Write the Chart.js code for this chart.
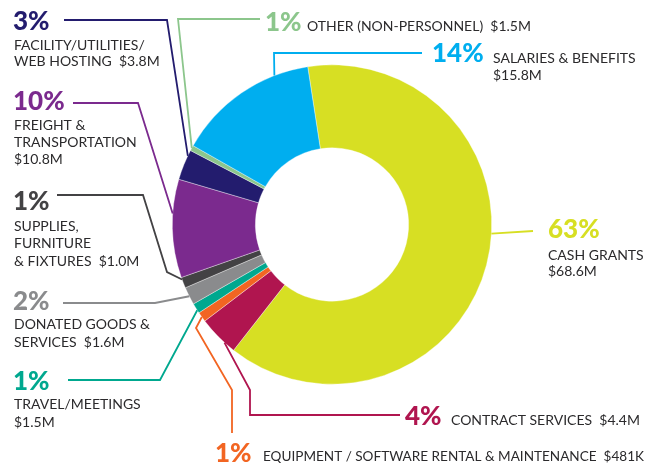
<!DOCTYPE html>
<html>
<head>
<meta charset="utf-8">
<script src="https://cdn.jsdelivr.net/npm/chart.js@4"></script>
<style>
    html, body { margin: 0; padding: 0; background: #fff; }
    #budgetChart { display: block; }
</style>
</head>
<body>
<canvas id="budgetChart" width="646" height="466"></canvas>
<script>
// Slices in clockwise order starting from the top
const categories = ['Cash Grants', 'Contract Services', 'Equipment / Software Rental & Maintenance',
    'Travel/Meetings', 'Donated Goods & Services', 'Supplies, Furniture & Fixtures',
    'Freight & Transportation', 'Facility/Utilities/Web Hosting', 'Other (Non-Personnel)', 'Salaries & Benefits'];
// share of the ring as drawn (percent)
const shares = [63.0, 4.1, 1.0, 1.05, 1.8, 1.1, 9.95, 3.1, 0.55, 14.35];
const percentLabels = ['63%', '4%', '1%', '1%', '2%', '1%', '10%', '3%', '1%', '14%'];
const amountLabels = ['$68.6M', '$4.4M', '$481K', '$1.5M', '$1.6M', '$1.0M', '$10.8M', '$3.8M', '$1.5M', '$15.8M'];
const colors = ['#d7df23', '#b0154f', '#f26522', '#00a88f', '#8a8b8d', '#434244',
    '#7b2a8e', '#231c6e', '#8cc68c', '#00aeef'];

// Label layout: where the callout text sits and how the leader line is routed
const callouts = [
    { along: 0.45, path: [[533, 231]], pct: [548, 238], lines: [['CASH GRANTS', 548, 260], ['$68.6M', 548, 276]] },
    { along: 0.29, path: [[250, 390], [250, 415], [400, 415]], pct: [405, 425], lines: [['CONTRACT SERVICES  $4.4M', 451, 425]] },
    { along: 0.5, path: [[196, 328], [232, 390], [232, 433]], pct: [215, 462], lines: [['EQUIPMENT / SOFTWARE RENTAL & MAINTENANCE  $481K', 263, 461, 381]] },
    { along: 0.3, path: [[160, 380], [68, 380]], pct: [13, 390], lines: [['TRAVEL/MEETINGS', 14, 409], ['$1.5M', 14, 427]] },
    { along: 0.48, path: [[155, 303], [63, 303]], pct: [13, 310], lines: [['DONATED GOODS &', 14, 329], ['SERVICES  $1.6M', 14, 347]] },
    { along: 0.8, path: [[167, 272], [143, 195], [57, 195]], pct: [13, 210], lines: [['SUPPLIES,', 14, 231], ['FURNITURE', 14, 248], ['& FIXTURES  $1.0M', 14, 266]] },
    { along: 0.65, path: [[138, 103], [73, 103]], pct: [13, 110], lines: [['FREIGHT &', 14, 130], ['TRANSPORTATION', 14, 147], ['$10.8M', 14, 164]] },
    { along: 0.81, path: [[167, 20], [64, 20]], pct: [13, 30], lines: [['FACILITY/UTILITIES/', 14, 50], ['WEB HOSTING  $3.8M', 14, 66]] },
    { along: 0.5, path: [[178, 19], [260, 19]], pct: [265, 31], lines: [['OTHER (NON-PERSONNEL)  $1.5M', 307, 31]] },
    { along: 0.76, path: [[274, 53], [422, 53]], pct: [432, 62], lines: [['SALARIES & BENEFITS', 493, 63], ['$15.8M', 493, 80]] }
];

const calloutPlugin = {
    id: 'callouts',
    afterDraw(chart) {
        const ctx = chart.ctx;
        const arcs = chart.getDatasetMeta(0).data;
        ctx.save();
        arcs.forEach((arc, i) => {
            const c = callouts[i];
            const p = arc.getProps(['x', 'y', 'startAngle', 'endAngle', 'outerRadius'], true);
            const a = p.startAngle + (p.endAngle - p.startAngle) * c.along;
            const ax = p.x + Math.cos(a) * p.outerRadius;
            const ay = p.y + Math.sin(a) * p.outerRadius;

            // leader line
            ctx.strokeStyle = colors[i];
            ctx.lineWidth = 1.8;
            ctx.lineJoin = 'miter';
            ctx.beginPath();
            ctx.moveTo(ax, ay);
            c.path.forEach(pt => ctx.lineTo(pt[0], pt[1]));
            ctx.stroke();

            // big percentage
            ctx.fillStyle = colors[i];
            ctx.font = '900 26px Lato';
            ctx.letterSpacing = '0px';
            ctx.textAlign = 'left';
            ctx.textBaseline = 'alphabetic';
            ctx.fillText(percentLabels[i], c.pct[0], c.pct[1]);

            // description
            ctx.fillStyle = '#2b2a2c';
            ctx.font = '14px Lato';
            c.lines.forEach(l => {
                if (l[3]) {
                    ctx.fillText(l[0], l[1], l[2], l[3]);
                } else {
                    ctx.fillText(l[0], l[1], l[2]);
                }
            });
        });
        ctx.restore();
    }
};

const budgetCtx = document.getElementById('budgetChart').getContext('2d');
window.budgetChart = new Chart(budgetCtx, {
    type: 'doughnut',
    data: {
        labels: categories,
        datasets: [{
            data: shares,
            backgroundColor: colors,
            borderColor: 'rgba(255, 255, 255, 0.6)',
            borderWidth: 0.6
        }]
    },
    options: {
        responsive: false,
        animation: false,
        rotation: -8.75,
        cutout: '48%',
        layout: {
            padding: { left: 172, right: 154, top: 64, bottom: 81 }
        },
        plugins: {
            legend: { display: false },
            tooltip: { enabled: false }
        }
    },
    plugins: [calloutPlugin]
});
</script>
</body>
</html>
